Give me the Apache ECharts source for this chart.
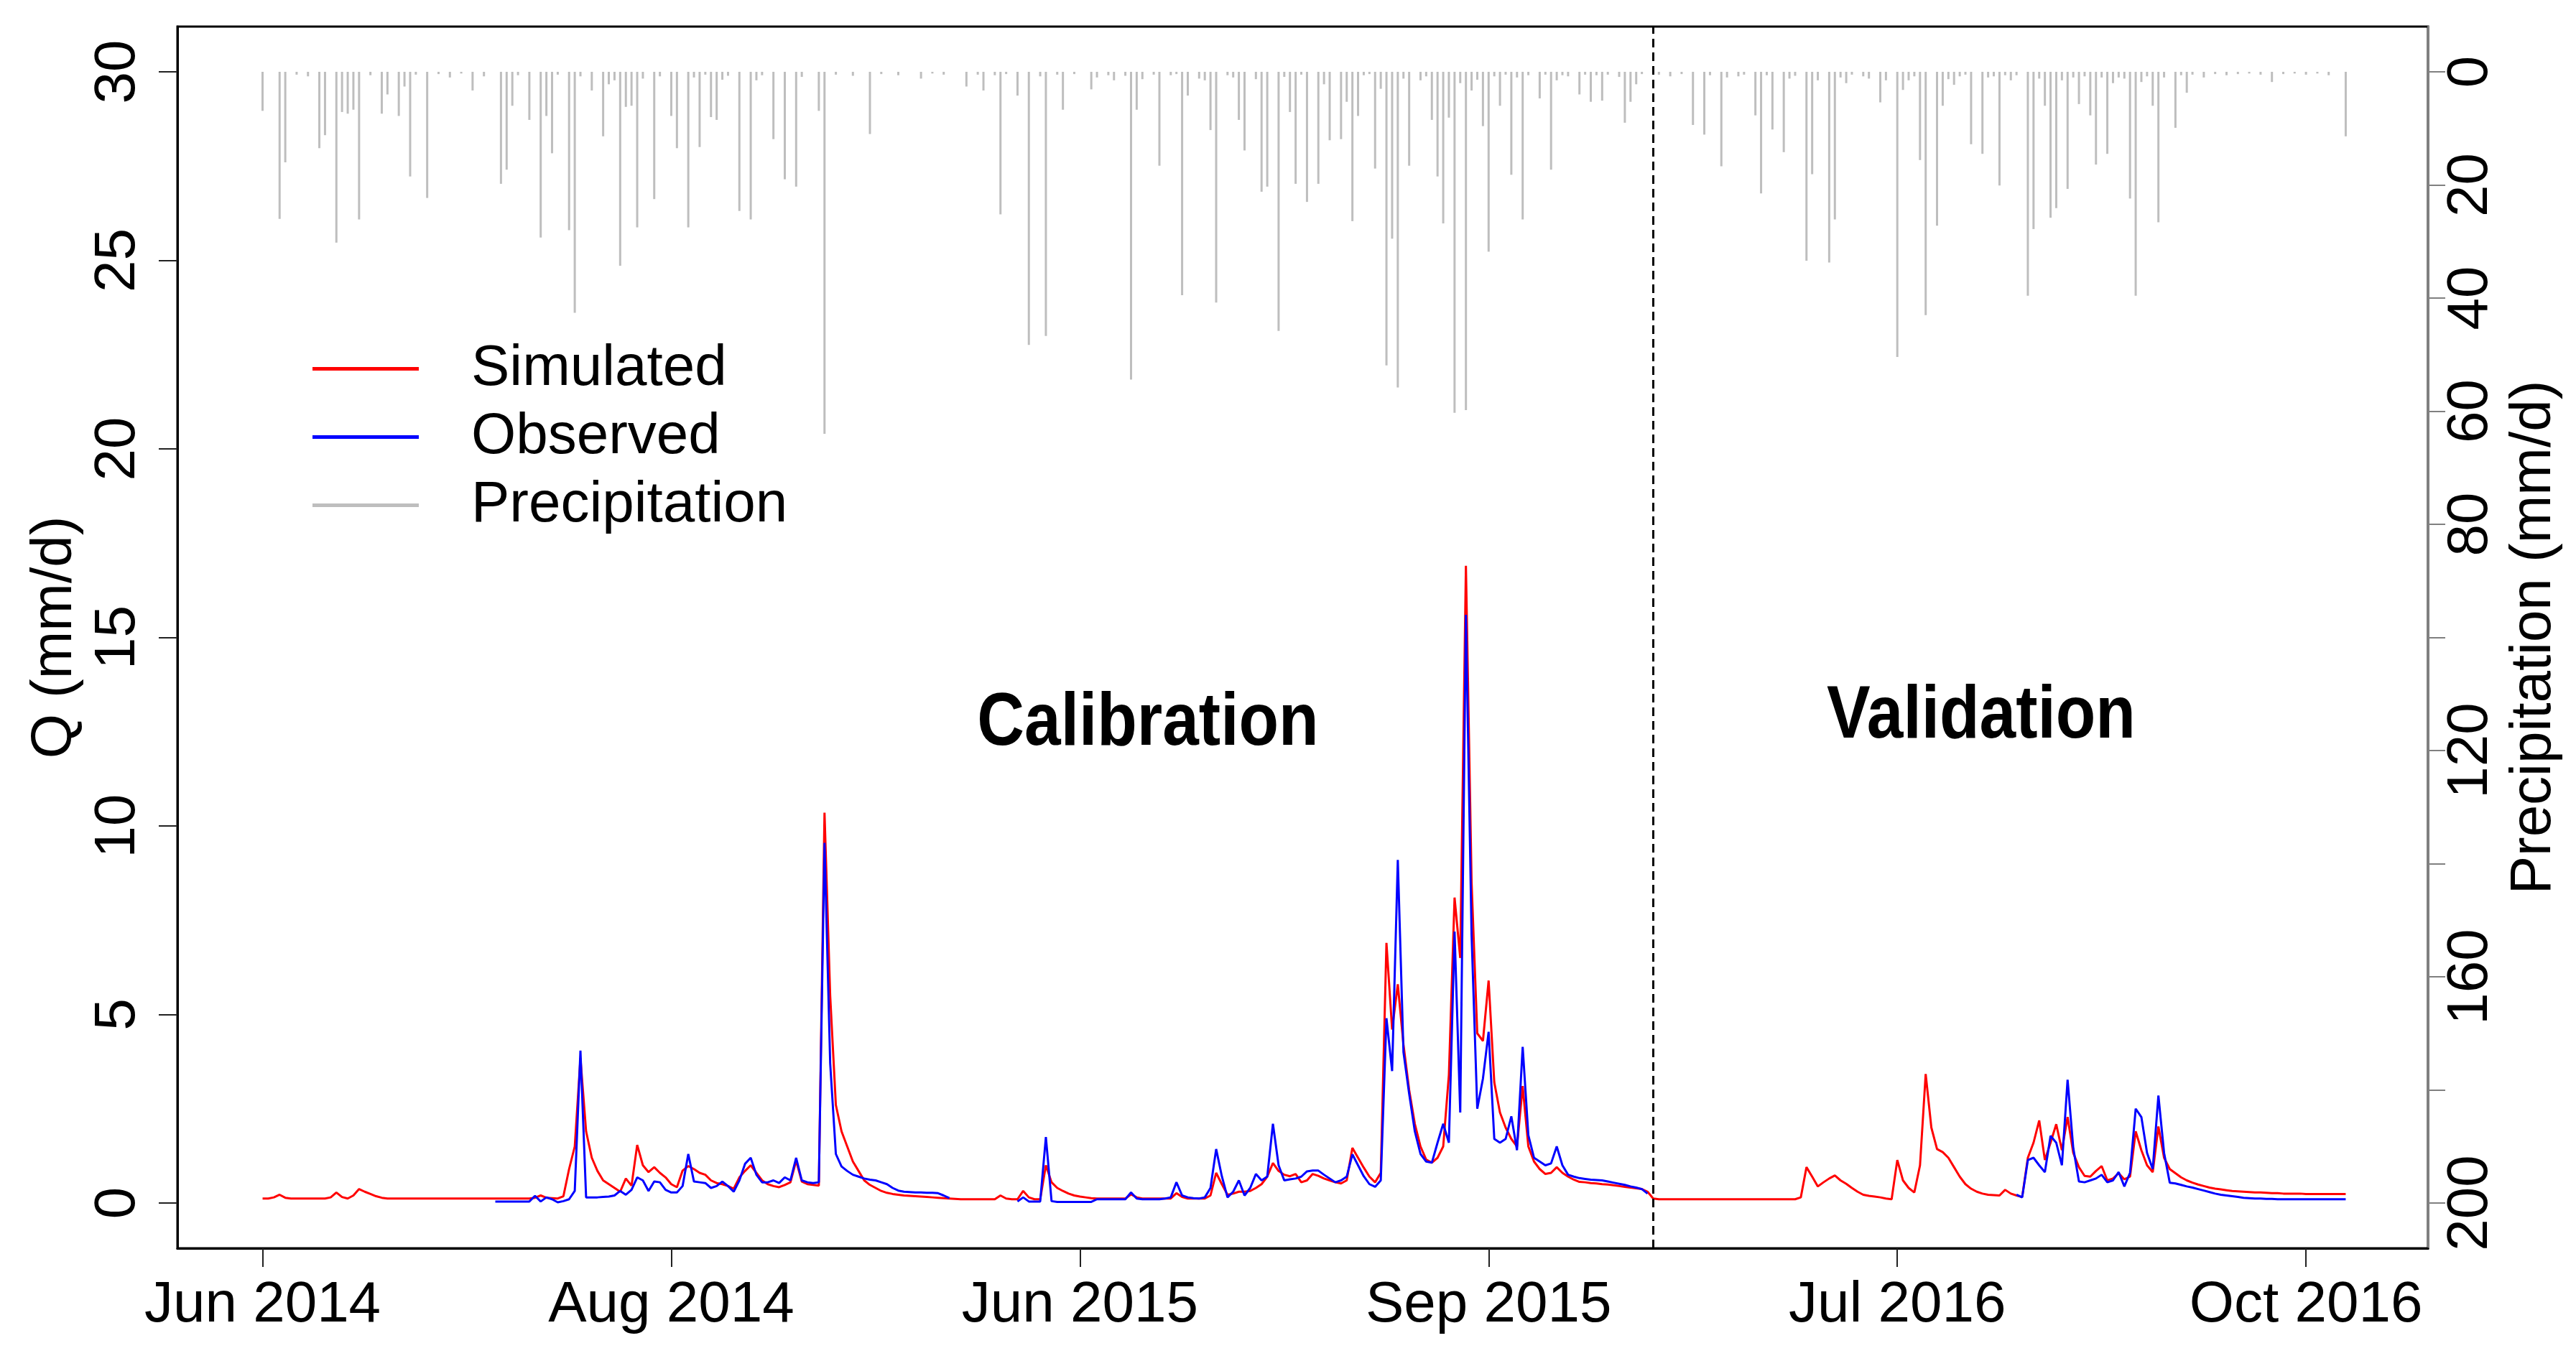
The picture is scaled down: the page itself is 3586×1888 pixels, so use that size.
<!DOCTYPE html>
<html>
<head>
<meta charset="utf-8">
<title>Q and precipitation, calibration / validation</title>
<script src="https://cdn.jsdelivr.net/npm/echarts@6/dist/echarts.min.js"></script>
<style>
  html, body { margin: 0; padding: 0; background: #fff; }
  #chart { width: 3586px; height: 1888px; }
</style>
</head>
<body>
<div id="chart"></div>
<script>
const FONT = "'Liberation Sans', Arial, Helvetica, sans-serif";

// x axis is a running day index over the three seasons
const tickIdx = [0, 72, 144, 216, 288, 360];
const tickLab = ["Jun 2014", "Aug 2014", "Jun 2015", "Sep 2015", "Jul 2016", "Oct 2016"];
const splitIdx = 245; // calibration | validation

// simulated Q (mm/d), one value per day
const sim2014 = [
  0.12,0.12,0.15,0.22,0.14,0.12,0.12,0.12,0.12,0.12,
  0.12,0.12,0.15,0.28,0.16,0.12,0.2,0.37,0.3,0.24,
  0.18,0.14,0.12,0.12,0.12,0.12,0.12,0.12,0.12,0.12,
  0.12,0.12,0.12,0.12,0.12,0.12,0.12,0.12,0.12,0.12,
  0.12,0.12,0.12,0.12,0.12,0.12,0.12,0.12,0.14,0.2,
  0.14,0.13,0.12,0.18,0.9,1.5,3.84,1.9,1.2,0.85,
  0.6,0.5,0.4,0.3,0.65,0.46,1.54,1.0,0.82,0.95,
  0.8,0.68,0.5,0.42,0.86,0.98,0.9,0.8,0.75,0.6,
  0.53,0.5,0.45,0.38,0.68,0.85,1.0,0.8,0.6,0.5,
  0.45,0.42,0.48,0.55,1.12,0.57,0.5,0.48,0.46,10.35,
  5.5,2.6,1.9,1.5,1.1,0.85,0.6,0.48,0.4,0.32,
  0.27,0.24,0.22,0.2,0.19,0.18,0.17,0.16,0.15,0.14,
  0.13,0.12
];
const sim2015 = [
  0.11,0.1,0.1,0.1,0.1,0.1,0.1,0.1,
  0.2,0.12,0.1,0.1,0.32,0.15,0.1,0.1,1.0,0.55,
  0.4,0.32,0.25,0.2,0.17,0.15,0.13,0.12,0.12,0.12,
  0.12,0.12,0.12,0.23,0.15,0.12,0.12,0.12,0.12,0.12,
  0.12,0.26,0.16,0.12,0.12,0.12,0.12,0.2,0.8,0.5,
  0.22,0.25,0.3,0.3,0.32,0.4,0.5,0.7,1.06,0.85,
  0.75,0.71,0.77,0.55,0.6,0.77,0.72,0.65,0.6,0.55,
  0.52,0.6,1.46,1.2,0.94,0.7,0.55,0.8,6.9,4.6,
  5.8,4.2,3.0,2.1,1.5,1.15,1.07,1.2,1.5,3.4,
  8.1,6.5,16.9,8.5,4.5,4.3,5.9,3.2,2.4,2.0,
  1.7,1.5,3.1,1.5,1.1,0.9,0.77,0.8,0.95,0.8,
  0.7,0.62,0.56,0.55,0.53,0.52,0.5,0.49,0.47,0.45,
  0.43,0.41,0.39,0.37,0.3
];
const sim2016 = [
  0.12,0.1,0.1,0.1,0.1,
  0.1,0.1,0.1,0.1,0.1,0.1,0.1,0.1,0.1,0.1,
  0.1,0.1,0.1,0.1,0.1,0.1,0.1,0.1,0.1,0.1,
  0.1,0.15,0.95,0.7,0.44,0.55,0.65,0.73,0.6,0.51,
  0.4,0.3,0.22,0.19,0.17,0.15,0.12,0.1,1.14,0.6,
  0.4,0.28,1.0,3.42,2.0,1.43,1.35,1.2,0.95,0.7,
  0.5,0.38,0.3,0.25,0.22,0.21,0.2,0.35,0.25,0.2,
  0.16,1.2,1.6,2.19,1.14,1.6,2.09,1.4,2.28,1.33,
  0.95,0.72,0.7,0.85,0.98,0.6,0.65,0.79,0.63,0.7,
  1.9,1.4,1.0,0.82,2.03,1.2,0.9,0.79,0.68,0.6,
  0.54,0.49,0.45,0.41,0.38,0.36,0.34,0.32,0.31,0.3,
  0.29,0.28,0.28,0.27,0.26,0.26,0.25,0.25,0.25,0.25,
  0.24,0.24,0.24,0.24,0.24,0.24,0.24,0.24
];

// observed Q (mm/d), only where measured; each block starts at obsStart[k]
const obs2014 = [
  0.04,0.04,0.04,0.04,0.04,0.04,0.04,0.19,0.04,
  0.15,0.1,0.02,0.05,0.1,0.32,4.04,0.15,0.15,0.15,
  0.16,0.17,0.2,0.32,0.22,0.35,0.68,0.6,0.32,0.57,
  0.55,0.35,0.28,0.28,0.45,1.3,0.57,0.55,0.53,0.4,
  0.45,0.57,0.45,0.3,0.6,1.04,1.2,0.75,0.55,0.55,
  0.6,0.53,0.68,0.6,1.2,0.6,0.55,0.53,0.55,9.55,
  3.7,1.3,0.97,0.85,0.75,0.7,0.65,0.62,0.6,0.55,
  0.5,0.4,0.33,0.3,0.29,0.28,0.28,0.27,0.27,0.26,
  0.2,0.13
];
const obs2015 = [
  0.04,0.15,0.04,0.04,0.04,1.75,0.05,
  0.03,0.03,0.03,0.03,0.03,0.03,0.03,0.1,0.1,0.1,
  0.1,0.1,0.1,0.28,0.12,0.1,0.1,0.1,0.1,0.12,
  0.15,0.55,0.2,0.15,0.13,0.12,0.15,0.4,1.43,0.71,
  0.15,0.3,0.6,0.2,0.4,0.77,0.6,0.7,2.1,1.0,
  0.6,0.63,0.65,0.7,0.84,0.86,0.86,0.75,0.65,0.55,
  0.6,0.7,1.29,1.0,0.71,0.5,0.43,0.6,4.9,3.5,
  9.1,4.0,2.9,1.9,1.3,1.1,1.07,1.6,2.1,1.6,
  7.2,2.4,15.6,7.1,2.5,3.3,4.54,1.7,1.6,1.7,
  2.3,1.4,4.14,1.8,1.2,1.1,1.0,1.05,1.5,1.0,
  0.75,0.7,0.66,0.64,0.62,0.61,0.6,0.57,0.54,0.51,
  0.48,0.44,0.41,0.37,0.25
];
const obs2016 = [
  0.22,
  0.15,1.14,1.2,1.0,0.82,1.78,1.6,1.0,3.27,1.46,
  0.57,0.55,0.6,0.65,0.75,0.55,0.6,0.82,0.44,0.8,
  2.5,2.28,1.33,0.9,2.85,1.33,0.54,0.52,0.48,0.44,
  0.41,0.37,0.33,0.29,0.25,0.22,0.2,0.18,0.16,0.14,
  0.13,0.12,0.12,0.11,0.11,0.1,0.1,0.1,0.1,0.1,
  0.1,0.1,0.1,0.1,0.1,0.1,0.1,0.1
];
const obsStart = [41, 133, 309];

// daily precipitation (mm/d)
const pre2014 = [
  6.9,0,0,26,16,0,0.5,0,0.8,0,
  13.5,11.2,0,30.2,7.1,7.4,6.7,26.1,0,0.6,
  0,7.4,4,0,7.8,2.6,18.5,0.5,0,22.3,
  0,0.4,0,1,0,0.3,0,3.3,0,0.8,
  0,0,19.8,17.3,6,0.6,0,8.5,0,29.3,
  7.8,14.4,0.5,0,28,42.6,0.8,0,3.3,0,
  11.4,2.2,1.5,34.3,6.2,6,27.5,1.2,0,22.5,
  0.8,0,7.8,13.5,0,27.5,1,13.3,0.5,8,
  8.5,1.4,0.7,0,24.6,0,26.1,1.5,0.6,0,
  11.9,0,19,0,20.3,0.9,0,0,6.9,64,
  0,0.5,0,0,0.7,0,0,11,0,0.4,
  0,0,0.6,0,0,0,1.2,0,0.3,0,
  0.5,0
];
const pre2015 = [
  0,0,2.6,0,0.5,3.3,0,0.6,
  25.2,0.4,0,4.2,0,48.3,0,0.8,46.7,0,
  0.5,6.7,0,0.4,0,0,3.1,1,0,0.6,
  1.5,0,0.7,54.4,6.7,1.3,0,0.5,16.6,0,
  0.6,0.4,39.5,4.2,0,1.2,1.5,10.3,40.8,0,
  0.6,1.0,8.5,13.9,0,1.3,21.2,20.3,0,45.8,
  0.9,7.1,19.8,0.5,23,0,19.8,2.2,12.1,0,
  11.9,5.3,26.4,7.8,0.6,0.4,17.1,3,51.9,29.5,
  55.8,1.2,16.6,0,1.5,0.8,8.5,18.5,26.8,8.1,
  60.3,2,59.8,3.3,1.4,9.6,31.8,0.8,6,0.5,
  18.2,1,26.1,0.6,0,4.7,0.5,17.3,1.5,0.6,
  0.8,0,4,0.5,5.3,0.6,5.1,0.5,0,0.9,
  9,5.3,2.2,0.4,0
];
const pre2016 = [
  0,0.5,0,0.8,0,
  0.4,0,9.4,0,11.1,0.6,0,16.7,1,0,
  0.8,0.5,0,7.7,21.5,0.6,10.2,0,14.2,1.2,
  0.7,0,33.4,18.1,1.5,0,33.7,26.1,1,2,
  0.5,0,0.8,1.2,0,5.4,1.5,0,50.4,3.2,
  1.5,0.8,15.6,43,0,27.2,6,1.3,2.3,0.8,
  0.5,12.8,0,14.5,1,0.8,20.1,0.6,1.5,0.6,
  0,39.6,27.8,1.2,6,25.8,24.1,1.5,20.7,1,
  5.7,0.8,7.7,16.4,1,14.5,2,1,1.2,22.4,
  39.6,1.8,0.8,6,26.6,1,0,9.9,0.6,3.7,
  0.5,0,1,0,0.4,0,0.6,0,0.4,0,
  0.3,0,0.5,0,1.8,0,0.4,0,0.3,0,
  0.5,0,0.3,0,0.6,0,0,11.4
];

const sim = [].concat(sim2014, sim2015, sim2016);
const precip = [].concat(pre2014, pre2015, pre2016);
const obs = sim.map(() => null);
[obs2014, obs2015, obs2016].forEach((seg, k) => {
  seg.forEach((v, j) => { obs[obsStart[k] + j] = v; });
});

const chart = echarts.init(document.getElementById("chart"));

const tickStyle = { color: "#222", width: 2 };

chart.setOption({
  animation: false,
  backgroundColor: "#fff",
  textStyle: { fontFamily: FONT },
  grid: {
    left: 247, top: 37, width: 3133, height: 1701,
    show: true, borderColor: "#000", borderWidth: 3,
  },
  legend: {
    orient: "vertical",
    left: 430, top: 461,
    itemGap: 0,
    itemWidth: 148, itemHeight: 5,
    icon: "rect",
    data: ["Simulated", "Observed", "Precipitation"],
    textStyle: {
      fontFamily: FONT, fontSize: 80, color: "#000",
      lineHeight: 95, padding: [0, 0, 0, 68],
    },
  },
  xAxis: {
    type: "value",
    min: -15, max: 381.5,
    axisLine: { show: true, onZero: false, lineStyle: { color: "#000", width: 3 } },
    axisTick: { show: true, customValues: tickIdx, length: 26, lineStyle: tickStyle },
    axisLabel: {
      customValues: tickIdx,
      formatter: (v) => tickLab[tickIdx.indexOf(v)],
      fontFamily: FONT, fontSize: 80, color: "#000", margin: 40,
    },
    splitLine: { show: false },
  },
  yAxis: [
    {
      type: "value",
      position: "left",
      min: -1.2, max: 31.2,
      name: "Q (mm/d)",
      nameLocation: "middle", nameRotate: 90, nameGap: 130,
      nameTextStyle: { fontFamily: FONT, fontSize: 80, color: "#000" },
      axisLine: { show: true, onZero: false, lineStyle: { color: "#000", width: 3 } },
      axisTick: { show: true, customValues: [0, 5, 10, 15, 20, 25, 30], length: 26, lineStyle: tickStyle },
      axisLabel: {
        customValues: [0, 5, 10, 15, 20, 25, 30],
        rotate: 90, margin: 42,
        fontFamily: FONT, fontSize: 80, color: "#000",
      },
      splitLine: { show: false },
    },
    {
      type: "value",
      position: "right",
      inverse: true,
      min: -8, max: 208,
      name: "Precipitation (mm/d)",
      nameLocation: "middle", nameRotate: 90, nameGap: 95,
      nameTextStyle: { fontFamily: FONT, fontSize: 80, color: "#000" },
      axisLine: { show: true, onZero: false, lineStyle: { color: "#808080", width: 3 } },
      axisTick: {
        show: true,
        customValues: [0, 20, 40, 60, 80, 100, 120, 140, 160, 180, 200],
        length: 24, lineStyle: { color: "#808080", width: 2 },
      },
      axisLabel: {
        customValues: [0, 20, 40, 60, 80, 120, 160, 200],
        rotate: 90, margin: 20,
        fontFamily: FONT, fontSize: 80, color: "#000",
      },
      splitLine: { show: false },
    },
  ],
  graphic: [
    {
      type: "text", x: 1598, y: 1008, scaleY: 1.15,
      style: {
        text: "Calibration", x: 0, y: 0, align: "center", verticalAlign: "middle",
        fontFamily: FONT, fontSize: 91, fontWeight: "bold", fill: "#000",
      },
    },
    {
      type: "text", x: 2758, y: 998, scaleY: 1.15,
      style: {
        text: "Validation", x: 0, y: 0, align: "center", verticalAlign: "middle",
        fontFamily: FONT, fontSize: 91, fontWeight: "bold", fill: "#000",
      },
    },
  ],
  series: [
    {
      name: "Precipitation",
      type: "bar",
      yAxisIndex: 1,
      barWidth: 3,
      itemStyle: { color: "#bebebe" },
      silent: true,
      data: precip.map((v, i) => [i, v]),
    },
    {
      name: "Simulated",
      type: "line",
      yAxisIndex: 0,
      showSymbol: false, symbol: "none",
      itemStyle: { color: "#ff0000" },
      lineStyle: { color: "#ff0000", width: 3 },
      data: sim.map((v, i) => [i, v]),
      markLine: {
        silent: true,
        symbol: ["none", "none"],
        label: { show: false },
        lineStyle: { color: "#000", width: 3, type: [12, 7] },
        data: [{ xAxis: splitIdx }],
      },
    },
    {
      name: "Observed",
      type: "line",
      yAxisIndex: 0,
      showSymbol: false, symbol: "none",
      itemStyle: { color: "#0000ff" },
      lineStyle: { color: "#0000ff", width: 3 },
      data: obs.map((v, i) => [i, v == null ? "-" : v]),
    },
  ],
});
</script>
</body>
</html>
